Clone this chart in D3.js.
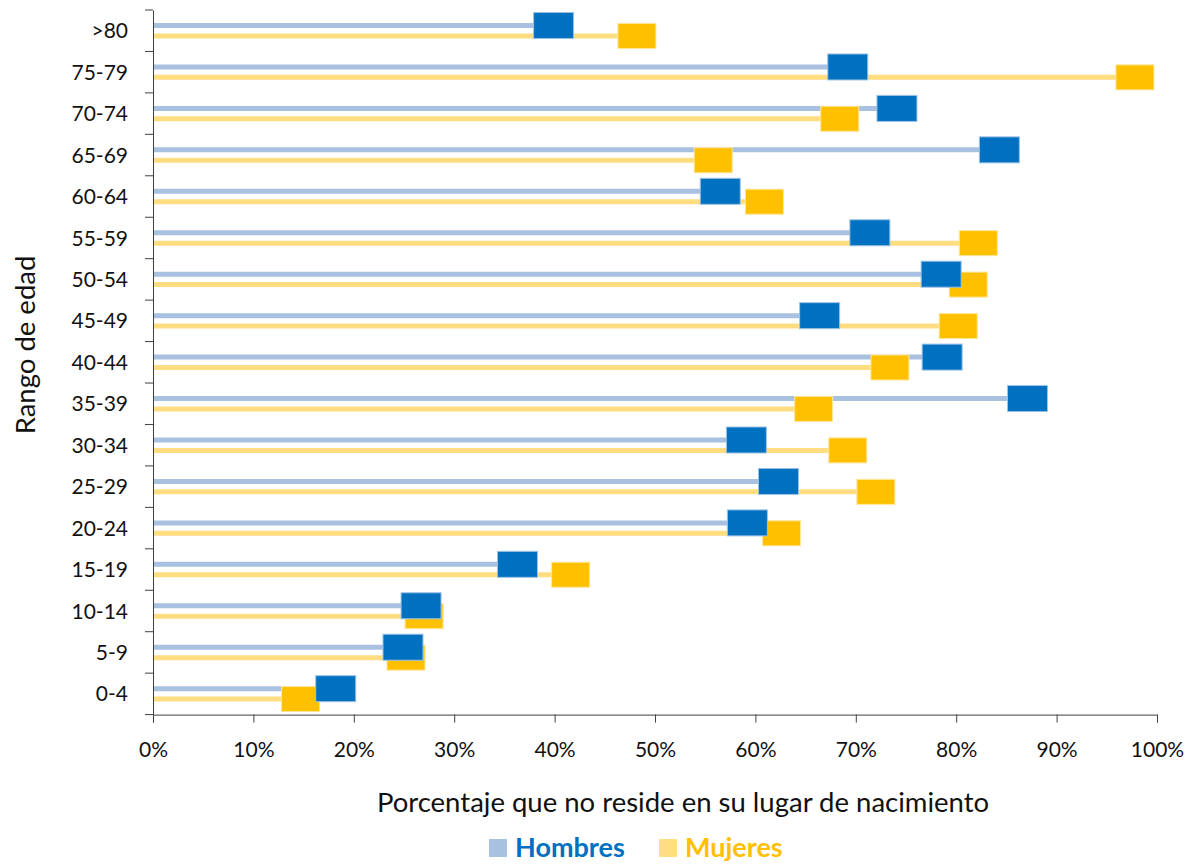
<!DOCTYPE html>
<html>
  <head>
    <meta charset="utf-8">
    <title>Porcentaje que no reside en su lugar de nacimiento</title>
    <script src="https://d3js.org/d3.v7.min.js"></script>
  </head>
  <style>
    body {
      margin: 0;
      background: #fff;
    }
    svg text {
      font-family: Lato, "Open Sans", sans-serif;
    }
    .domain, .tick > line {
      stroke: #404040;
    }
    .tick > text {
      fill: #111;
      font-size: 21px;
    }
  </style>
  <body>
    <svg id="chart" width="1195" height="865"></svg>

    <script>
      var categories = [">80", "75-79", "70-74", "65-69", "60-64", "55-59", "50-54", "45-49", "40-44",
                        "35-39", "30-34", "25-29", "20-24", "15-19", "10-14", "5-9", "0-4"];
      var hombres = [39.9, 69.2, 74.1, 84.3, 56.5, 71.4, 78.5, 66.4, 78.6,
                     87.1, 59.1, 62.3, 59.2, 36.3, 26.7, 24.9, 18.2];
      var mujeres = [48.2, 97.8, 68.4, 55.8, 60.9, 82.2, 81.2, 80.2, 73.4,
                     65.8, 69.2, 72.0, 62.6, 41.6, 27.0, 25.2, 14.7];
      var xTicks = [0, 10, 20, 30, 40, 50, 60, 70, 80, 90, 100];

      drawChart();

      function drawChart() {
        var left = 153, right = 1157, plotTop = 10, plotBottom = 714.6;

        var svg = d3.select("#chart");

        var xScale = d3.scaleLinear().domain([0, 100]).range([left, right]);
        var yScale = d3.scaleBand().domain(categories).range([plotTop, plotBottom]);

        var rows = categories.map((c, i) => ({ cat: c, h: hombres[i], m: mujeres[i] }));
        var off = 5.2;
        var cy = d => yScale(d.cat) + yScale.bandwidth() / 2;

        // axes
        var xAxis = d3.axisBottom(xScale)
          .tickValues(xTicks)
          .tickFormat(d => d + "%")
          .tickSize(8)
          .tickPadding(19);
        svg.append("g").attr("transform", "translate(0," + plotBottom + ")").call(xAxis);

        var yAxis = d3.axisLeft(yScale).tickSize(0).tickPadding(25);
        var yG = svg.append("g").attr("transform", "translate(" + left + ",0)").call(yAxis);
        yG.selectAll(".tick text").attr("dy", "0.36em");

        // ticks on the category boundaries
        svg.append("g").selectAll("line")
          .data(categories.concat(["end"]))
          .enter()
          .append("line")
            .attr("x1", left - 8)
            .attr("x2", left)
            .attr("y1", (d, i) => i < categories.length ? yScale(d) : plotBottom)
            .attr("y2", (d, i) => i < categories.length ? yScale(d) : plotBottom)
            .attr("stroke", "#404040");

        // thin bars
        svg.append("g").selectAll("line")
          .data(rows)
          .enter()
          .append("line")
            .attr("x1", xScale(0) + 1)
            .attr("x2", d => xScale(d.h))
            .attr("y1", d => cy(d) - off)
            .attr("y2", d => cy(d) - off)
            .attr("stroke", "#a9c1e0")
            .attr("stroke-width", 5);

        svg.append("g").selectAll("line")
          .data(rows)
          .enter()
          .append("line")
            .attr("x1", xScale(0) + 1)
            .attr("x2", d => xScale(d.m))
            .attr("y1", d => cy(d) + off)
            .attr("y2", d => cy(d) + off)
            .attr("stroke", "#ffdd80")
            .attr("stroke-width", 5);

        // markers
        svg.append("g").selectAll("rect")
          .data(rows)
          .enter()
          .append("rect")
            .attr("x", d => xScale(d.m) - 19)
            .attr("y", d => cy(d) + off - 12.5)
            .attr("width", 38)
            .attr("height", 25)
            .attr("fill", "#ffc000")
            .attr("stroke", "#ffe699")
            .attr("stroke-width", 1);

        svg.append("g").selectAll("rect")
          .data(rows)
          .enter()
          .append("rect")
            .attr("x", d => xScale(d.h) - 20)
            .attr("y", d => cy(d) - off - 13)
            .attr("width", 40)
            .attr("height", 26)
            .attr("fill", "#0070c0")
            .attr("stroke", "#9dc3e6")
            .attr("stroke-width", 1);

        // titles
        svg.append("text")
          .attr("x", 683)
          .attr("y", 812)
          .attr("text-anchor", "middle")
          .attr("font-size", "27.5px")
          .attr("fill", "#111")
          .text("Porcentaje que no reside en su lugar de nacimiento");

        svg.append("text")
          .attr("transform", "translate(35,345) rotate(-90)")
          .attr("text-anchor", "middle")
          .attr("font-size", "27.5px")
          .attr("fill", "#111")
          .text("Rango de edad");

        // legend
        var legend = [
          { name: "Hombres", box: "#a9c1e0", color: "#0070c0", x: 489 },
          { name: "Mujeres", box: "#ffdd80", color: "#ffc000", x: 659 }
        ];
        var lg = svg.append("g").selectAll("g").data(legend).enter().append("g");
        lg.append("rect")
          .attr("x", d => d.x)
          .attr("y", 839)
          .attr("width", 18)
          .attr("height", 18)
          .attr("fill", d => d.box);
        lg.append("text")
          .attr("x", d => d.x + 26)
          .attr("y", 857)
          .attr("font-size", "27px")
          .attr("font-weight", "bold")
          .attr("fill", d => d.color)
          .text(d => d.name);
      }
    </script>
  </body>
</html>
